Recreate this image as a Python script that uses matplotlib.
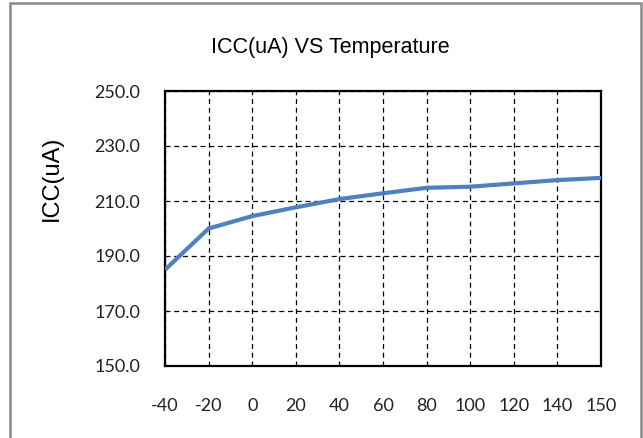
import matplotlib
matplotlib.use("Agg")
import matplotlib.pyplot as plt
from matplotlib.patches import Rectangle

# temperature categories and supply current readings
temps = ["-40", "-20", "0", "20", "40", "60", "80", "100", "120", "140", "150"]
icc = [185.0, 200.0, 204.5, 207.7, 210.7, 212.8, 214.8, 215.2, 216.4, 217.6, 218.4]
yticks = [150, 170, 190, 210, 230, 250]

fig = plt.figure(figsize=(6.43, 4.38), dpi=100)
ax = fig.add_axes([165 / 643, 72 / 438, 436 / 643, 275 / 438])

x = list(range(len(temps)))
ax.plot(x, icc, color="#4F81BD", lw=3.0, solid_capstyle="butt", zorder=3)

ax.set_xlim(0, len(temps) - 1)
ax.set_ylim(150, 250)
ax.set_xticks(x)
ax.set_xticklabels(temps, family="Lato", fontsize=13, color="#222222")
ax.set_yticks(yticks)
ax.set_yticklabels(["%.1f" % v for v in yticks], family="Lato", fontsize=13, color="#222222")
ax.tick_params(axis="both", length=0)
ax.tick_params(axis="x", pad=23)
ax.tick_params(axis="y", pad=18)

ax.grid(True, color="black", lw=0.9, linestyle=(0, (4, 3)))
for s in ax.spines.values():
    s.set_linewidth(1.6)
    s.set_color("black")

fig.text(330 / 643, 1 - 47 / 438, "ICC(uA) VS Temperature", family="Liberation Sans",
         fontsize=15.5, ha="center", va="center")
fig.text(52 / 643, 1 - 178 / 438, "ICC(uA)", family="Liberation Sans",
         fontsize=17, rotation=90, ha="center", va="center")

# outer chart border
fig.patches.append(Rectangle((10 / 643, -0.05), 631 / 643, 1.05 - 3 / 438,
                             transform=fig.transFigure, fill=False,
                             edgecolor="#8a8a8a", lw=1.8, clip_on=False))

fig.savefig("out.png", dpi=100)
